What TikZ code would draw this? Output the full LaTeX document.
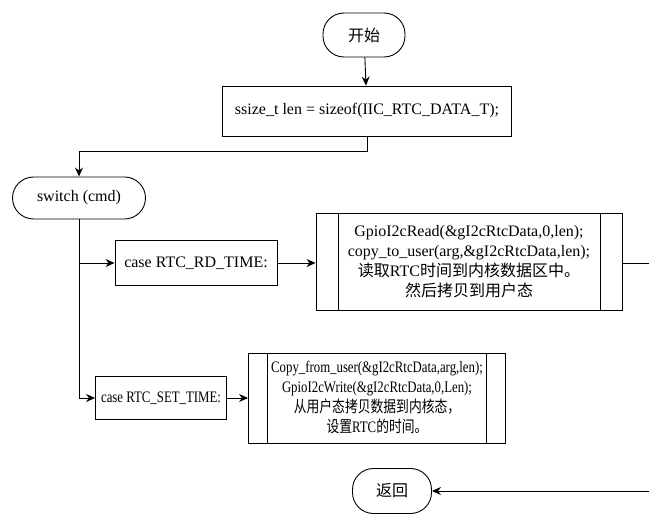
\documentclass[tikz,border=0pt]{standalone}
\usepackage{fontspec}
\usepackage{graphicx}
\setmainfont{Liberation Serif}
\newfontfamily\cjk{Noto Sans CJK SC}
\usetikzlibrary{positioning,arrows.meta}
\newcommand{\narrow}[1]{\scalebox{0.8}[1]{#1}}
\tikzset{
  term/.style={rectangle, rounded corners=21pt, draw=black, line width=0.9pt,
               minimum height=44pt, align=center, inner sep=2pt,
               font=\fontsize{16}{20}\selectfont},
  proc/.style={rectangle, draw=black, line width=0.9pt, align=center,
               inner sep=3pt, font=\fontsize{16}{20}\selectfont},
  pre/.style={proc, path picture={
      \draw[line width=0.9pt] ([xshift=#1]path picture bounding box.north west)
        -- ([xshift=#1]path picture bounding box.south west);
      \draw[line width=0.9pt] ([xshift=-#1]path picture bounding box.north east)
        -- ([xshift=-#1]path picture bounding box.south east);}},
  flowarr/.style={-{Stealth[length=9pt,width=8pt]}, line width=0.9pt},
}
\begin{document}
\begin{tikzpicture}[x=1pt,y=-1pt]
\useasboundingbox (0,0) rectangle (649,516);
% start / init
\node[term, minimum width=82pt] (start) at (364,35) {\cjk 开始};
\node[proc, minimum width=289pt, minimum height=50pt] (len) at (367,111)
  {ssize\_t len = sizeof(IIC\_RTC\_DATA\_T);};
% switch and the two cases
\node[term, minimum width=133pt, minimum height=42pt] (sw) at (79,198) {switch (cmd)};
\node[proc, minimum width=162pt, minimum height=45pt] (rdc) at (196,263) {case RTC\_RD\_TIME:};
\node[proc, minimum width=131pt, minimum height=43pt] (setc) at (161,398)
  {\narrow{case RTC\_SET\_TIME:}};
\node[pre=22pt, minimum width=306pt, minimum height=97pt] (rd) at (469,262)
  {GpioI2cRead(\&gI2cRtcData,0,len);\\
   copy\_to\_user(arg,\&gI2cRtcData,len);\\
   {\cjk 读取}RTC{\cjk 时间到内核数据区中。}\\
   {\cjk 然后拷贝到用户态}};
\node[pre=19pt, minimum width=257pt, minimum height=90pt] (set) at (377,398)
  {\narrow{Copy\_from\_user(\&gI2cRtcData,arg,len);}\\
   \narrow{GpioI2cWrite(\&gI2cRtcData,0,Len);}\\
   \narrow{\cjk 从用户态拷贝数据到内核态，}\\
   \narrow{{\cjk 设置}RTC{\cjk 的时间。}}};
\node[term, minimum width=79pt, minimum height=45pt] (ret) at (392,491) {\cjk 返回};
% right-hand return path (runs past the page edge)
\coordinate (ex) at (662,263);
\coordinate (ey) at (662,491);
% connectors
\draw[flowarr] (start) -- (len);
\draw[flowarr] (len.south) -- ++(0,15) -| (sw.north);
\draw[flowarr] (sw.south) |- (setc.west);
\draw[flowarr] (sw.south |- rdc.west) -- (rdc.west);
\draw[flowarr] (rdc.east) -- (rdc.east -| rd.west);
\draw[flowarr] (setc.east) -- (setc.east -| set.west);
\draw[flowarr] (rd.east |- rdc.east) -- (ex) -- (ey) -- (ret.east);
\end{tikzpicture}
\end{document}
